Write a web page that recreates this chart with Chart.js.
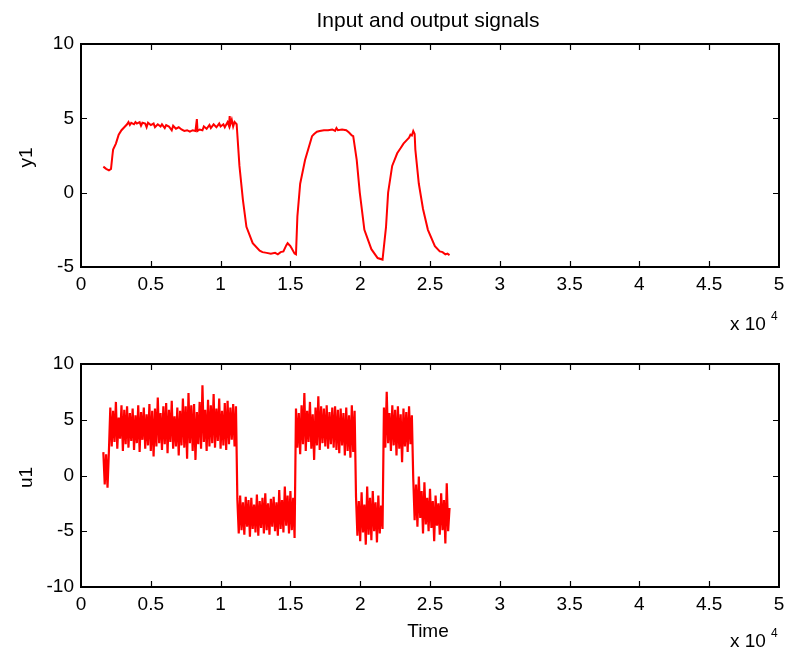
<!DOCTYPE html>
<html>
<head>
<meta charset="utf-8">
<script src="https://cdn.jsdelivr.net/npm/chart.js@4/dist/chart.umd.min.js"></script>
<style>
  body { margin: 0; background: #fff; }
  canvas { position: absolute; left: 0; }
  #topChart { top: 0; }
  #bottomChart { top: 340px; }
</style>
</head>
<body>
<canvas id="topChart" width="787" height="340"></canvas>
<canvas id="bottomChart" width="787" height="312"></canvas>
<script>
// Dados (tempo em amostras, eixo x mostrado em x 10^4)
const xTickLabels = ["0", "0.5", "1", "1.5", "2", "2.5", "3", "3.5", "4", "4.5", "5"];
const y1TickLabels = ["-5", "0", "5", "10"];
const u1TickLabels = ["-10", "-5", "0", "5", "10"];

// saída y1
const y1Time = [1600, 1800, 2000, 2150, 2250, 2300, 2500, 2700, 2900, 3100,
  3300, 3400, 3500, 3600, 3800, 3900, 4000, 4200, 4300, 4400, 4600, 4700, 4800, 5000, 5200, 5300,
  5500, 5700, 5800, 6000, 6100, 6300, 6500, 6600, 6800, 7000, 7200, 7400, 7600, 7800, 8000, 8200,
  8300, 8350, 8500, 8700, 8800, 9000, 9200, 9300, 9500, 9700, 9900, 10000, 10200, 10300, 10500,
  10600, 10650, 10700, 10800, 10900, 11000, 11150,
  11350, 11600, 11850, 12300, 12800, 13000, 13300, 13600, 13900, 14100, 14300, 14500, 14700, 14800,
  15000, 15100, 15300, 15400, 15500, 15700, 16050,
  16550, 16700, 16900, 17100, 17400, 17700, 18000, 18200, 18300, 18400, 18700, 19000, 19200, 19400, 19500,
  19750, 19970, 20300, 20800, 21250, 21600, 21850, 22000, 22290,
  22650, 22900, 23100, 23350, 23500, 23600, 23700, 23800, 23900, 23950, 24200,
  24500, 24850, 25350, 25700, 25900, 26100, 26250, 26400];
const y1Values = [1.75, 1.6, 1.5, 1.6, 2.5, 2.9, 3.3, 3.9, 4.2, 4.4,
  4.6, 4.75, 4.55, 4.7, 4.6, 4.75, 4.65, 4.75, 4.5, 4.7, 4.65, 4.4, 4.7, 4.55, 4.65, 4.4,
  4.6, 4.45, 4.6, 4.35, 4.55, 4.45, 4.2, 4.5, 4.3, 4.4, 4.25, 4.15, 4.2, 4.1, 4.2, 4.15,
  4.95, 4.15, 4.25, 4.2, 4.45, 4.3, 4.55, 4.35, 4.6, 4.4, 4.65, 4.45, 4.6, 4.4, 4.75,
  4.5, 5.15, 4.6, 4.9, 4.45, 4.75, 4.6,
  1.8, -0.5, -2.3, -3.4, -3.9, -4.0, -4.05, -4.1, -4.05, -4.15, -4.0, -3.95, -3.55, -3.4,
  -3.6, -3.75, -4.1, -4.15, -1.6, 0.6, 2.2,
  3.8, 3.95, 4.1, 4.15, 4.2, 4.2, 4.25, 4.15, 4.35, 4.2, 4.25, 4.2, 4.05, 3.85, 3.8,
  2.2, 0.0, -2.5, -3.8, -4.4, -4.5, -2.3, 0.0, 1.8,
  2.65, 3.0, 3.3, 3.55, 3.7, 3.9, 3.85, 4.15, 3.95, 2.9, 0.6,
  -1.1, -2.5, -3.6, -3.95, -4.0, -4.15, -4.1, -4.2];

// entrada u1 (amostrada a cada 100)
const u1Start = 1600;
const u1Step = 100;
const u1Values = [
  2.1, -0.8, 1.9, -1.1, 2.2,
  6.1, 2.6, 5.8, 3.0, 6.6, 2.4, 5.2, 3.3, 6.3, 2.2,
  5.9, 2.8, 6.2, 2.5, 5.6, 3.1, 6.0, 2.3, 5.4, 2.9,
  6.3, 2.1, 5.7, 3.2, 6.1, 2.4, 5.5, 2.7, 6.4, 2.2,
  5.8, 1.7, 6.0, 2.6, 7.0, 2.9, 5.6, 2.3, 6.2, 2.8,
  6.5, 2.0, 5.9, 3.0, 6.7, 2.4, 5.3, 2.6, 6.1, 1.8,
  5.8, 2.7, 6.9, 2.5, 6.2, 1.5, 7.4, 2.9, 6.3, 2.2,
  6.4, 1.4, 5.7, 2.8, 6.6, 2.4, 8.1, 3.0, 5.9, 2.2,
  6.8, 2.6, 6.3, 2.9, 7.3, 2.5, 6.0, 3.1, 6.9, 2.4,
  5.8, 2.7, 6.5, 2.3, 6.7, 2.8, 6.1, 3.2, 6.4, 2.6, 6.2,
  -2.1, -5.2, -1.8, -4.9, -2.4, -5.3, -1.9, -4.6, -2.2, -5.5,
  -2.0, -4.8, -2.6, -5.1, -1.7, -5.4, -2.3, -4.7, -2.0, -5.2,
  -1.6, -4.9, -2.5, -5.3, -2.1, -4.6, -1.9, -5.0, -2.4, -5.4,
  -1.3, -4.8, -2.2, -5.1, -1.0, -4.5, -1.8, -5.2, -1.4, -4.9, -2.0, -5.6,
  6.0, 2.5, 5.6, 1.9, 6.3, 2.8, 7.4, 2.2, 5.8, 3.0,
  6.6, 2.4, 5.5, 1.4, 6.1, 2.7, 7.1, 2.3, 6.2, 2.9,
  6.0, 2.6, 6.3, 2.4, 5.7, 2.8, 6.1, 2.5, 6.2, 2.3,
  5.9, 2.0, 6.0, 2.7, 5.6, 1.8, 6.1, 2.2, 5.4, 1.6, 6.3, 2.1, 5.8,
  -1.9, -5.4, -2.3, -5.9, -1.5, -5.1, -2.6, -6.2, -1.0, -5.3,
  -2.0, -5.8, -1.4, -5.0, -2.4, -6.0, -1.8, -5.2, -2.7, -4.8,
  6.1, 2.5, 7.5, 2.9, 5.6, 2.2, 6.3, 2.7, 5.9, 1.8,
  6.2, 2.4, 5.5, 1.2, 6.0, 2.6, 5.7, 2.1, 6.2, 2.8, 5.4,
  -0.3, -4.0, -0.8, -4.6, -0.1, -3.8, -1.4, -5.2, -0.6, -4.4,
  -2.0, -5.0, -1.2, -4.7, -2.3, -5.9, -1.8, -4.5, -2.5, -5.3,
  -1.6, -4.9, -2.2, -6.1, -0.7, -5.0, -2.9
];

const FONT = "Liberation Sans, Arial, Helvetica, sans-serif";

const y1Points = y1Time.map((t, i) => ({ x: t, y: y1Values[i] }));
const u1Points = u1Values.map((v, i) => ({ x: u1Start + i * u1Step, y: v }));

// Eixos estilo MATLAB: moldura, ticks para dentro, textos extras
const matlabAxes = {
  id: "matlabAxes",
  afterDraw(chart, args, opts) {
    const ctx = chart.ctx;
    const a = chart.chartArea;
    const xs = chart.scales.x;
    const ys = chart.scales.y;
    ctx.save();
    ctx.strokeStyle = "#000";
    ctx.lineWidth = 1.2;
    ctx.beginPath();
    xs.ticks.forEach(t => {
      const px = Math.round(xs.getPixelForValue(t.value)) + 0.5;
      if (px <= a.left + 1 || px >= a.right - 1) return;
      ctx.moveTo(px, a.bottom); ctx.lineTo(px, a.bottom - 6);
      ctx.moveTo(px, a.top); ctx.lineTo(px, a.top + 6);
    });
    ys.ticks.forEach(t => {
      const py = Math.round(ys.getPixelForValue(t.value)) + 0.5;
      if (py <= a.top + 1 || py >= a.bottom - 1) return;
      ctx.moveTo(a.left, py); ctx.lineTo(a.left + 6, py);
      ctx.moveTo(a.right, py); ctx.lineTo(a.right - 6, py);
    });
    ctx.stroke();
    ctx.lineWidth = 2;
    ctx.strokeRect(a.left, a.top, a.right - a.left, a.bottom - a.top);

    ctx.fillStyle = "#000";
    // rótulo do eixo y
    ctx.font = "19px " + FONT;
    ctx.textAlign = "center";
    ctx.textBaseline = "middle";
    ctx.save();
    ctx.translate(27, (a.top + a.bottom) / 2 + 2);
    ctx.rotate(-Math.PI / 2);
    ctx.fillText(opts.yLabel, 0, 0);
    ctx.restore();

    if (opts.xLabel) {
      ctx.fillText(opts.xLabel, (a.left + a.right) / 2 - 2, opts.xLabelY);
    }
    if (opts.title) {
      ctx.font = "21px " + FONT;
      ctx.fillText(opts.title, (a.left + a.right) / 2 - 2, 21);
    }
    // multiplicador x 10^4
    ctx.font = "19px " + FONT;
    ctx.textAlign = "left";
    ctx.textBaseline = "alphabetic";
    ctx.fillText("x 10", 730, opts.expY);
    ctx.font = "12px " + FONT;
    ctx.fillText("4", 771, opts.expY - 10);
    ctx.restore();
  }
};

function makeChart(id, points, yMin, yMax, yLabels, padTop, xAxisHeight, extra) {
  const ctx = document.getElementById(id).getContext("2d");
  return new Chart(ctx, {
    type: "line",
    data: {
      datasets: [{
        data: points,
        borderColor: "#ff0000",
        borderWidth: extra.lineWidth,
        pointRadius: 0,
        fill: false,
        tension: 0
      }]
    },
    options: {
      responsive: false,
      animation: false,
      devicePixelRatio: 1,
      layout: { padding: { top: padTop, right: 8, left: 0, bottom: 0 } },
      plugins: {
        legend: { display: false },
        tooltip: { enabled: false },
        matlabAxes: extra
      },
      scales: {
        x: {
          type: "linear",
          min: 0,
          max: 50000,
          grid: { display: false, drawTicks: false },
          border: { display: false },
          ticks: {
            stepSize: 5000,
            padding: 6,
            color: "#000",
            font: { family: FONT, size: 19 },
            maxRotation: 0,
            autoSkip: false,
            callback: (v) => xTickLabels[Math.round(v / 5000)]
          },
          afterFit: (s) => { s.height = xAxisHeight; s.paddingLeft = 0; s.paddingRight = 0; }
        },
        y: {
          min: yMin,
          max: yMax,
          grid: { display: false, drawTicks: false },
          border: { display: false },
          ticks: {
            stepSize: 5,
            padding: 7,
            color: "#000",
            font: { family: FONT, size: 19 },
            callback: (v) => yLabels[Math.round((v - yMin) / 5)]
          },
          afterFit: (s) => { s.width = 81; s.paddingTop = 0; s.paddingBottom = 0; }
        }
      }
    },
    plugins: [matlabAxes]
  });
}

makeChart("topChart", y1Points, -5, 10, y1TickLabels, 44, 73, {
  yLabel: "y1", title: "Input and output signals", expY: 330, lineWidth: 2
});
makeChart("bottomChart", u1Points, -10, 10, u1TickLabels, 24, 65, {
  yLabel: "u1", xLabel: "Time", xLabelY: 292, expY: 307, lineWidth: 2.2
});
</script>
</body>
</html>
